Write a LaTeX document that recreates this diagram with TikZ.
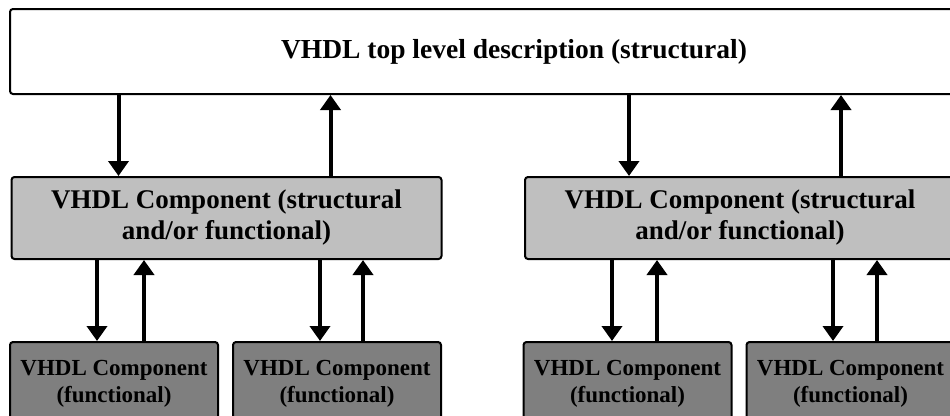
\documentclass[tikz,border=0pt]{standalone}
\usepackage{fontspec}
\setmainfont{Liberation Serif}
\usetikzlibrary{arrows.meta}
\definecolor{midgray}{RGB}{191,191,191}
\definecolor{lowgray}{RGB}{127,127,127}
\tikzset{
  topbox/.style={draw,line width=2pt,rounded corners=3pt,fill=white,
    minimum width=1008pt,minimum height=85pt,
    font=\fontsize{27.5}{32}\selectfont\bfseries},
  midbox/.style={draw,line width=2pt,rounded corners=3pt,fill=midgray,
    minimum width=430pt,minimum height=82pt,align=center,
    font=\fontsize{27}{31}\selectfont\bfseries},
  lowbox/.style={draw,line width=2pt,rounded corners=3pt,fill=lowgray,
    minimum width=208pt,minimum height=84pt,align=center,
    font=\fontsize{23}{27}\selectfont\bfseries},
  link/.style={line width=4pt,-{Triangle[width=20pt,length=15pt]}}
}

\begin{document}
\begin{tikzpicture}[x=1pt,y=1pt]
      \useasboundingbox (0,0) rectangle (950,-415);
      \clip (0,0) rectangle (950,-415);

      \node[topbox] (1) at (514,-51.5) {VHDL top level description (structural)};
      \node[midbox] (2) at (226.5,-218) {VHDL Component (structural\\and/or functional)};
      \node[midbox] (3) at (740,-218) {VHDL Component (structural\\and/or functional)};
      \node[lowbox] (4) at (114,-384) {VHDL Component\\(functional)};
      \node[lowbox] (5) at (337,-384) {VHDL Component\\(functional)};
      \node[lowbox] (6) at (627.5,-384) {VHDL Component\\(functional)};
      \node[lowbox] (7) at (850.5,-384) {VHDL Component\\(functional)};

      % where the arrows meet the boxes
      \coordinate (2d) at ([xshift=-108pt]2.north);
      \coordinate (2u) at ([xshift=104pt]2.north);
      \coordinate (3d) at ([xshift=-111pt]3.north);
      \coordinate (3u) at ([xshift=101pt]3.north);
      \coordinate (4d) at ([xshift=-17pt]4.north);
      \coordinate (4u) at ([xshift=30pt]4.north);
      \coordinate (5d) at ([xshift=-17pt]5.north);
      \coordinate (5u) at ([xshift=26pt]5.north);
      \coordinate (6d) at ([xshift=-15.5pt]6.north);
      \coordinate (6u) at ([xshift=29.5pt]6.north);
      \coordinate (7d) at ([xshift=-17.5pt]7.north);
      \coordinate (7u) at ([xshift=26.5pt]7.north);

      \draw[link] (1.south -| 2d) -- (2d);
      \draw[link] (2u) -- (1.south -| 2u);
      \draw[link] (1.south -| 3d) -- (3d);
      \draw[link] (3u) -- (1.south -| 3u);

      \draw[link] (2.south -| 4d) -- (4d);
      \draw[link] (4u) -- (2.south -| 4u);
      \draw[link] (2.south -| 5d) -- (5d);
      \draw[link] (5u) -- (2.south -| 5u);
      \draw[link] (3.south -| 6d) -- (6d);
      \draw[link] (6u) -- (3.south -| 6u);
      \draw[link] (3.south -| 7d) -- (7d);
      \draw[link] (7u) -- (3.south -| 7u);
    \end{tikzpicture}
\end{document}
